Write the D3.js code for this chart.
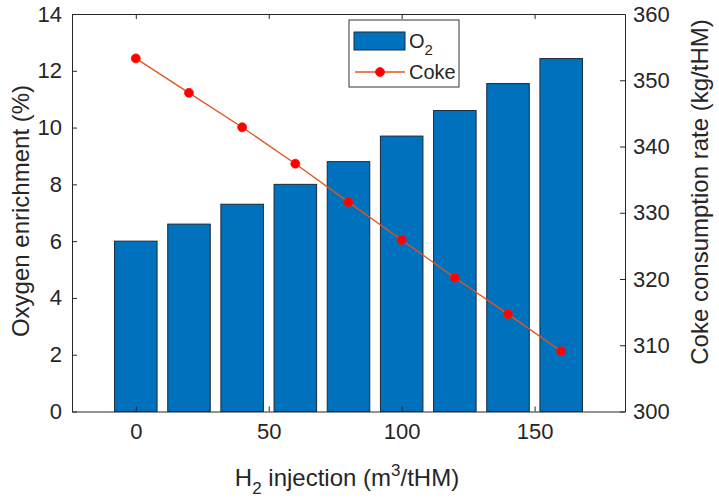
<!DOCTYPE html>
<html><head><meta charset="utf-8">
<script src="https://cdn.jsdelivr.net/npm/d3@7"></script>
<style>
body{margin:0;background:#fff;}
text{font-family:"Liberation Sans",Arial,sans-serif;fill:#262626;}
</style></head>
<body><svg id="c" width="719" height="503"></svg>
<script>
const h2 = [0,20,40,60,80,100,120,140,160];
const o2 = [6.0,6.6,7.3,8.0,8.8,9.7,10.6,11.55,12.43];
const coke = [353.3,348.1,342.9,337.4,331.6,325.9,320.2,314.7,309.1];
const xTicks = [0,50,100,150];
const yLTicks = [0,2,4,6,8,10,12,14];
const yRTicks = [300,310,320,330,340,350,360];

const svg = d3.select("#c");
const L=72, R=625, T=14, B=411.5;
const x = d3.scaleLinear().domain([-24,184]).range([L,R]);
const yL = d3.scaleLinear().domain([0,14]).range([B,T]);
const yR = d3.scaleLinear().domain([300,360]).range([B,T]);
const axCol="#262626", fs=22;

// bars
const bw = x(16)-x(0);
svg.append("g").selectAll("rect").data(h2).join("rect")
  .attr("x",(d)=>x(d)-bw/2).attr("width",bw)
  .attr("y",(d,i)=>yL(o2[i])).attr("height",(d,i)=>yL(0)-yL(o2[i]))
  .attr("fill","#0072BD").attr("stroke","#1a2a3a").attr("stroke-width",1);

// line
const line = d3.line().x((d,i)=>x(h2[i])).y(d=>yR(d));
svg.append("path").datum(coke).attr("d",line).attr("fill","none")
  .attr("stroke","#E4541C").attr("stroke-width",1.3);
svg.append("g").selectAll("circle").data(coke).join("circle")
  .attr("cx",(d,i)=>x(h2[i])).attr("cy",d=>yR(d)).attr("r",4.5)
  .attr("fill","#FF0000").attr("stroke","#F21B0A").attr("stroke-width",0.8);

function style(g){
  g.select(".domain").attr("stroke",axCol).attr("stroke-width",1);
  g.selectAll(".tick line").attr("stroke",axCol);
  g.selectAll(".tick text").style("font-size",fs+"px").attr("fill",axCol)
   .style("font-family",'"Liberation Sans",Arial,sans-serif');
}
// axes
svg.append("g").attr("transform",`translate(0,${B})`)
  .call(d3.axisBottom(x).tickValues(xTicks).tickSizeInner(-5).tickSizeOuter(0).tickPadding(12).tickFormat(d3.format("d")))
  .call(style);
svg.append("g").attr("transform",`translate(0,${T})`)
  .call(d3.axisTop(x).tickValues(xTicks).tickSizeInner(-5).tickSizeOuter(0).tickFormat(""))
  .call(style);
svg.append("g").attr("transform",`translate(${L},0)`)
  .call(d3.axisLeft(yL).tickValues(yLTicks).tickSizeInner(-5).tickSizeOuter(0).tickPadding(10).tickFormat(d3.format("d")))
  .call(style);
svg.append("g").attr("transform",`translate(${R},0)`)
  .call(d3.axisRight(yR).tickValues(yRTicks).tickSizeInner(-5).tickSizeOuter(0).tickPadding(8).tickFormat(d3.format("d")))
  .call(style);

// axis labels
const xl = svg.append("text").attr("x",347).attr("y",486).attr("text-anchor","middle").style("font-size","24px");
xl.append("tspan").text("H");
xl.append("tspan").text("2").attr("dy",8).style("font-size","17px");
xl.append("tspan").text(" injection (m").attr("dy",-8);
xl.append("tspan").text("3").attr("dy",-10).style("font-size","17px");
xl.append("tspan").text("/tHM)").attr("dy",10);

svg.append("text").attr("transform",`translate(29,211) rotate(-90)`)
  .attr("text-anchor","middle").style("font-size","24px").text("Oxygen enrichment (%)");
svg.append("text").attr("transform",`translate(691,192) rotate(-90)`)
  .attr("text-anchor","middle").attr("dy","0.72em").style("font-size","24px").text("Coke consumption rate (kg/tHM)");

// legend
const lg = svg.append("g");
lg.append("rect").attr("x",349).attr("y",20).attr("width",110).attr("height",67)
  .attr("fill","#fff").attr("stroke","#333").attr("stroke-width",1);
lg.append("rect").attr("x",354).attr("y",32).attr("width",51).attr("height",18)
  .attr("fill","#0072BD").attr("stroke","#1a2a3a");
const t1 = lg.append("text").attr("x",409).attr("y",48).style("font-size","20px");
t1.append("tspan").text("O");
t1.append("tspan").text("2").attr("dy",7).style("font-size","15px");
lg.append("line").attr("x1",355).attr("x2",405).attr("y1",72).attr("y2",72)
  .attr("stroke","#E4541C").attr("stroke-width",1.3);
lg.append("circle").attr("cx",380).attr("cy",72).attr("r",4.5).attr("fill","#FF0000").attr("stroke","#F21B0A").attr("stroke-width",0.8);
lg.append("text").attr("x",409).attr("y",79).style("font-size","20px").text("Coke");
</script></body></html>
